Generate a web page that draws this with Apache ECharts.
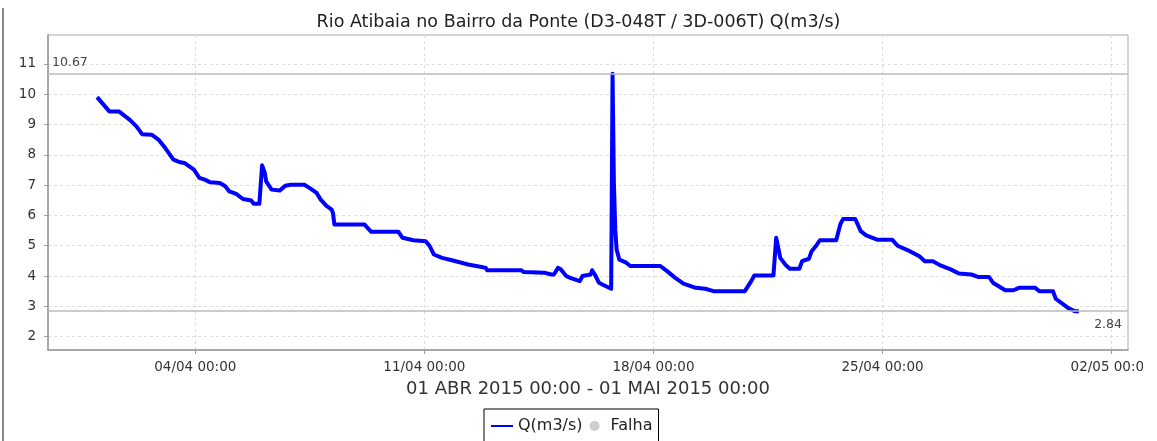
<!DOCTYPE html>
<html><head><meta charset="utf-8">
<script src="https://cdn.jsdelivr.net/npm/echarts@6/dist/echarts.min.js"></script>
<style>html,body{margin:0;padding:0;background:#fff}#c{width:1157px;height:441px}</style>
</head><body><div id="c"></div>
<script>
const chartTitle = 'Rio Atibaia no Bairro da Ponte (D3-048T / 3D-006T) Q(m3/s)';
const periodLabel = '01 ABR 2015 00:00 - 01 MAI 2015 00:00';
const seriesName = 'Q(m3/s)';
const failName = 'Falha';
// hours since 01/04/2015 00:00
const hours = [0,9,16,24,29,33,40,45,50,56,61,64,71,75,79,83,90,94,97,102,107,113,115,119,121,123,124,128,134,138,142,152,156,161,164,168,172,173,174,196,201,221,224,232,241,244,247,253,261,272,282,285,286,311,313,328,333,335,338,340,344,347,354,356,362,363,365,368,372,377,378,379,380,381,383,388,391,413,418,424,430,439,446,452,475,479,482,496,498,499,501,505,508,515,517,522,524,527,530,542,545,547,556,560,564,572,583,587,596,603,607,613,618,626,632,641,646,654,657,666,672,676,688,691,701,703,712,717,720];
const flow = [9.90,9.43,9.43,9.15,8.93,8.68,8.66,8.50,8.22,7.84,7.75,7.73,7.51,7.24,7.18,7.09,7.07,6.96,6.79,6.71,6.54,6.49,6.38,6.38,7.65,7.40,7.12,6.85,6.82,6.98,7.01,7.01,6.90,6.74,6.52,6.32,6.19,6.08,5.70,5.70,5.46,5.46,5.26,5.18,5.15,4.98,4.71,4.60,4.51,4.38,4.30,4.27,4.19,4.19,4.13,4.11,4.05,4.05,4.27,4.22,4.00,3.94,3.83,4.00,4.05,4.19,4.05,3.78,3.69,3.58,10.67,7.07,5.53,4.87,4.54,4.44,4.33,4.33,4.16,3.94,3.75,3.61,3.58,3.50,3.50,3.78,4.02,4.02,5.26,5.04,4.60,4.36,4.24,4.24,4.49,4.57,4.82,4.98,5.18,5.18,5.70,5.88,5.88,5.48,5.34,5.20,5.20,5.00,4.82,4.65,4.49,4.49,4.36,4.22,4.08,4.05,3.97,3.97,3.78,3.53,3.53,3.61,3.61,3.50,3.50,3.25,2.95,2.84,2.84];
const xTickDates = ['2015-04-04','2015-04-11','2015-04-18','2015-04-25','2015-05-02'];
const yTicks = [2,3,4,5,6,7,8,9,10,11];
const maxValue = 10.67;
const minValue = 2.84;

const start = Date.UTC(2015,3,1);
const data = hours.map((h,i)=>[start + h*3600e3, flow[i]]);
const xTicks = xTickDates.map(s=>Date.UTC(+s.slice(0,4), +s.slice(5,7)-1, +s.slice(8,10)));
const xMin = Date.UTC(2015,2,30,12), xMax = Date.UTC(2015,4,2,12);
const pad = n => String(n).padStart(2,'0');
const FONT = 'DejaVu Sans';

const chart = echarts.init(document.getElementById('c'), null, {renderer:'canvas'});
chart.setOption({
  animation: false,
  backgroundColor: '#fff',
  title: {text: chartTitle, left: 'center', top: 8,
    textStyle: {fontFamily: FONT, fontSize: 17.5, fontWeight: 'normal', color: '#222'}},
  grid: {left: 48, right: 29, top: 35, bottom: 91, show: true, borderColor: '#aaa', borderWidth: 1},
  legend: {
    top: 409, left: 484,
    borderColor: '#000', borderWidth: 1, padding: [9, 6, 14, 6],
    itemWidth: 22, itemHeight: 10, itemGap: 7,
    textStyle: {fontFamily: FONT, fontSize: 16, color: '#222'},
    data: [
      {name: seriesName, itemStyle: {opacity: 0}, lineStyle: {width: 2}},
      {name: failName, icon: 'circle'}
    ]
  },
  xAxis: {
    type: 'value', min: xMin, max: xMax,
    name: periodLabel, nameLocation: 'middle', nameGap: 30,
    nameTextStyle: {fontFamily: FONT, fontSize: 18, color: '#333'},
    axisLine: {lineStyle: {color: '#999', width: 1.5}},
    axisTick: {show: true, length: 4, customValues: xTicks, lineStyle: {color: '#999'}},
    axisLabel: {customValues: xTicks, margin: 10, fontFamily: FONT, fontSize: 13.5, color: '#333',
      formatter: v => { const d = new Date(v); return pad(d.getUTCDate()) + '/' + pad(d.getUTCMonth()+1) + ' 00:00'; }},
    splitLine: {show: true, lineStyle: {color: '#ddd', type: [3,3]}}
  },
  yAxis: {
    type: 'value', min: 1.56, max: 11.95,
    axisLine: {show: true, lineStyle: {color: '#999', width: 1.5}},
    axisTick: {show: true, length: 4, customValues: yTicks, lineStyle: {color: '#999'}},
    axisLabel: {customValues: yTicks, margin: 12, fontFamily: FONT, fontSize: 13.5, color: '#333'},
    splitLine: {show: true, lineStyle: {color: '#ddd', type: [3,3]}}
  },
  series: [
    {name: seriesName, type: 'line', data: data, showSymbol: false, symbol: 'none',
     color: '#0000ff', lineStyle: {color: '#0000ff', width: 4, join: 'round'},
     markLine: {symbol: 'none', silent: true,
       lineStyle: {color: '#bbb', type: 'solid', width: 1.5},
       label: {fontFamily: FONT, fontSize: 12.5, color: '#444'},
       data: [
         {yAxis: maxValue, label: {position: 'insideStartTop', formatter: String(maxValue), distance: [4, 5]}},
         {yAxis: minValue, label: {position: 'insideEndBottom', formatter: String(minValue), distance: [6, 7]}}
       ]}},
    {name: failName, type: 'scatter', data: [], color: '#c0c0c0'}
  ],
  graphic: [
    {type: 'line', shape: {x1: 3, y1: 8, x2: 3, y2: 441}, style: {stroke: '#888', lineWidth: 2}},
    {type: 'rect', z: 100, shape: {x: 1143, y: 354, width: 14, height: 22}, style: {fill: '#fff'}}
  ]
});
</script></body></html>
